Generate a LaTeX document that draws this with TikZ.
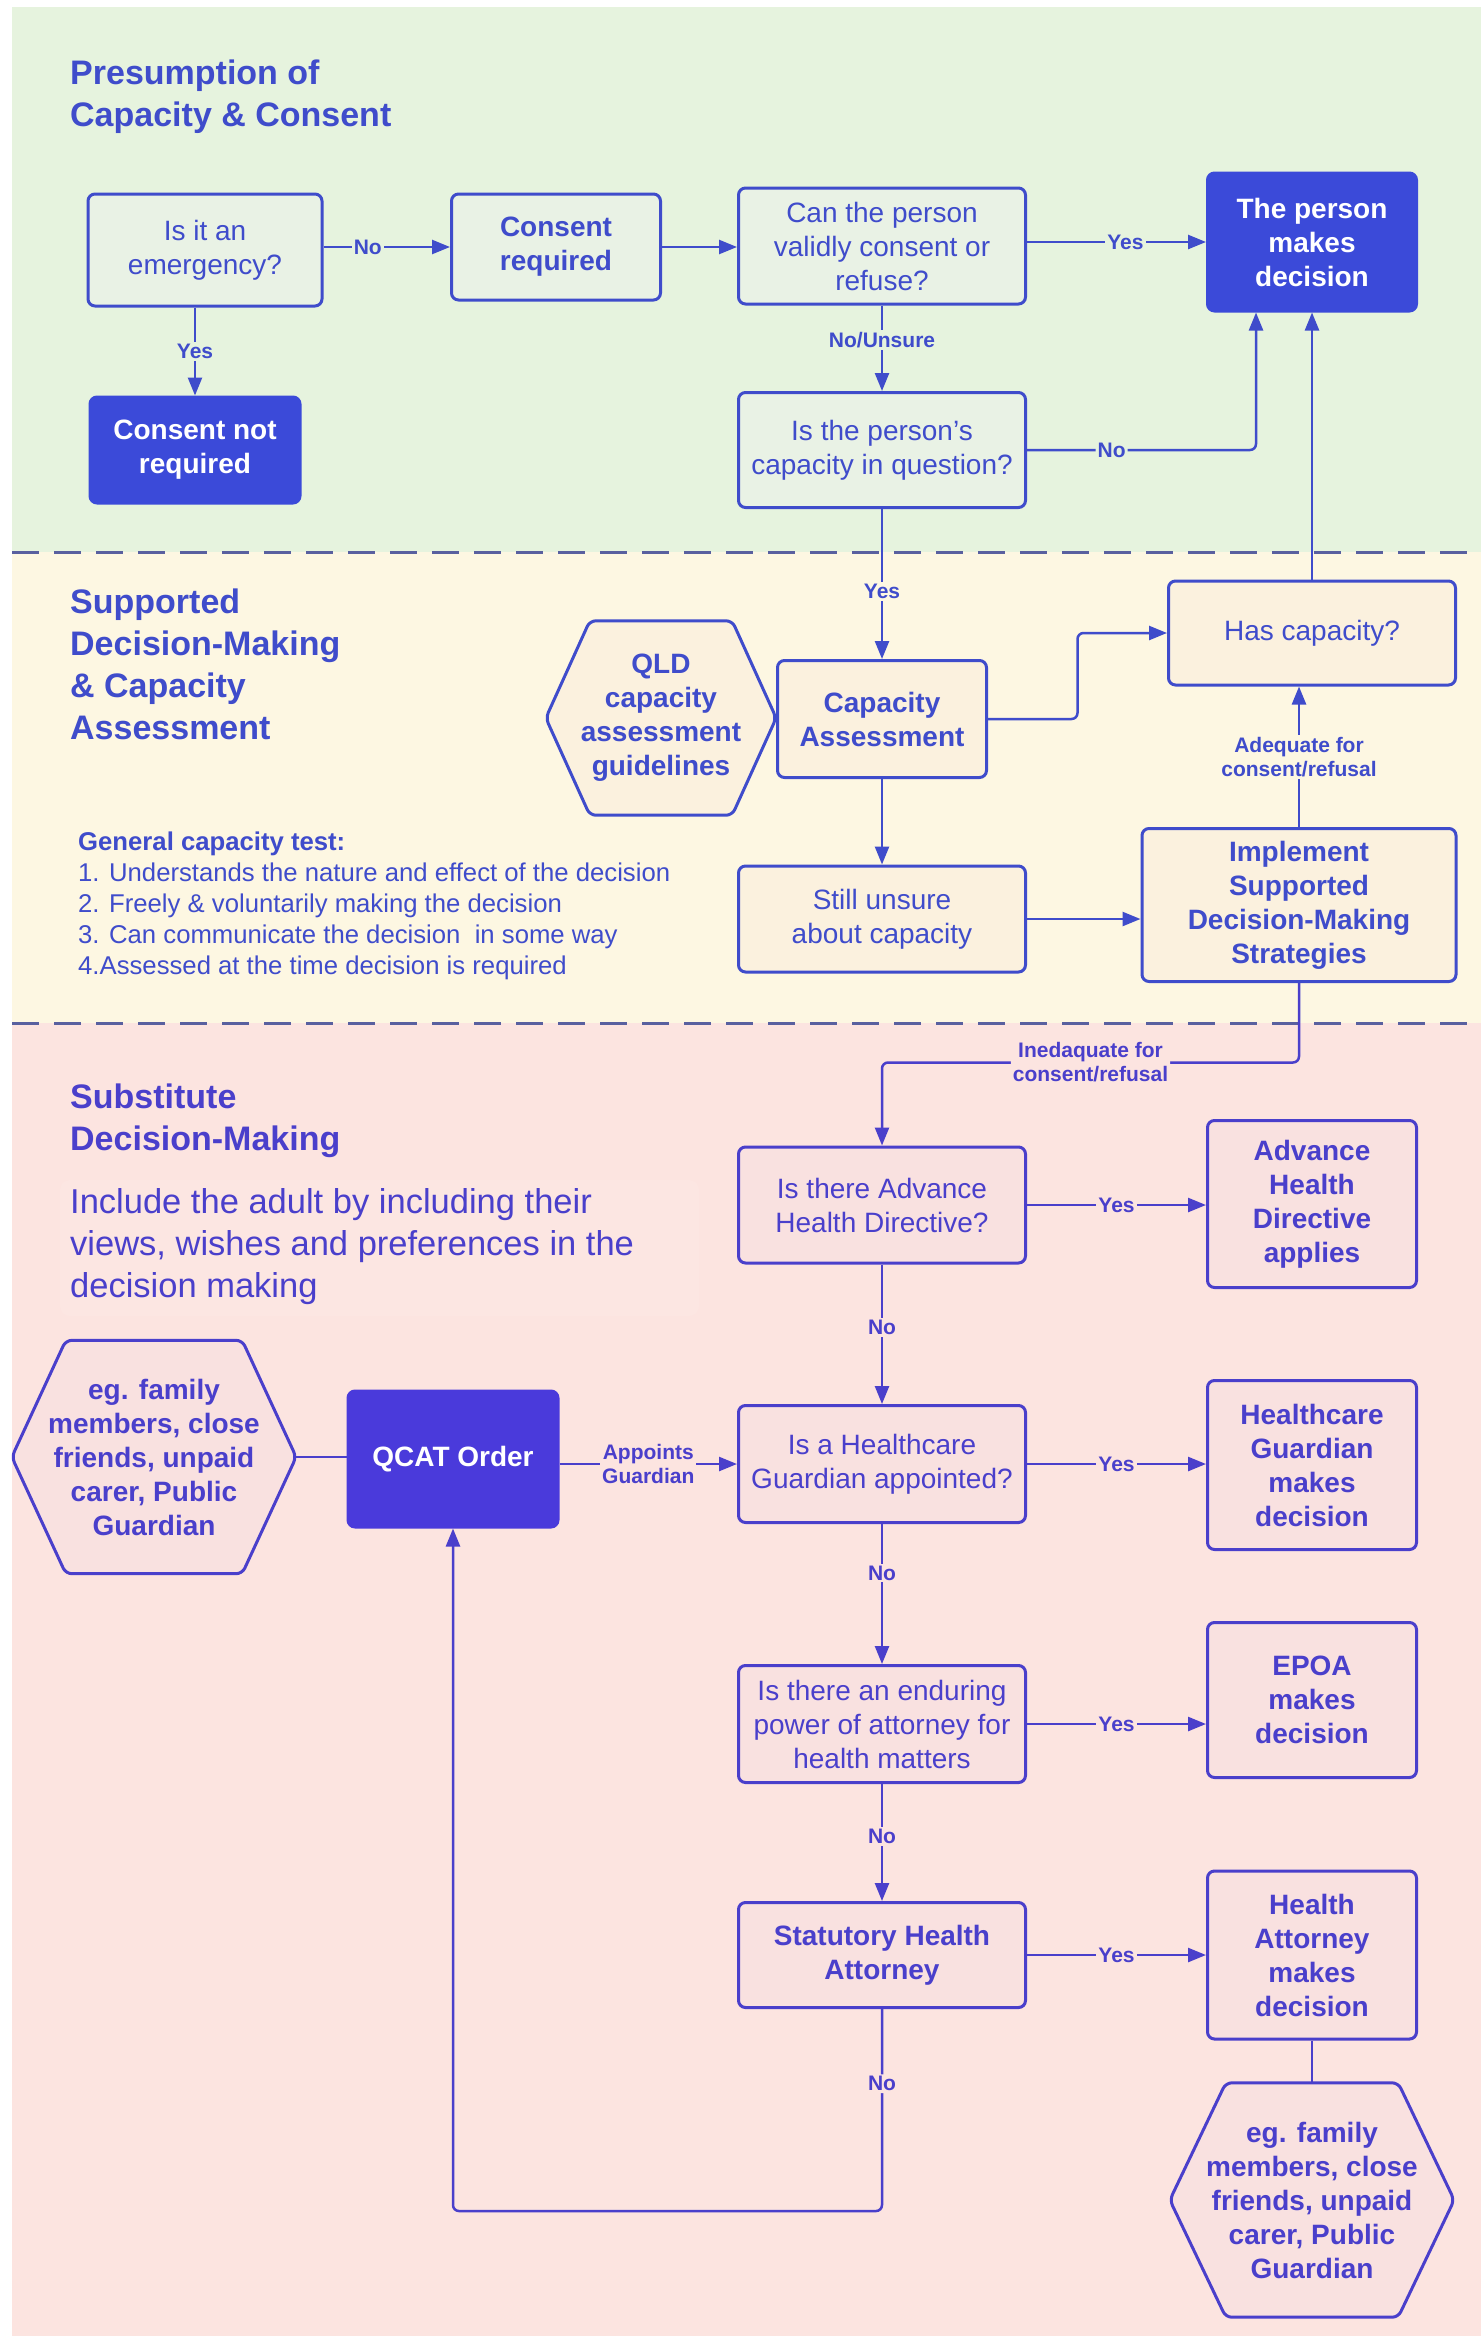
\documentclass[tikz,border=0pt]{standalone}
\usepackage{fontspec}
\setmainfont{Liberation Sans}
\usetikzlibrary{arrows.meta,calc}
\pgfdeclarelayer{back}
\pgfdeclarelayer{mid}
\pgfsetlayers{back,mid,main}
\definecolor{gbg}{HTML}{E6F3DE}
\definecolor{ybg}{HTML}{FDF7E2}
\definecolor{pbg}{HTML}{FCE4E0}
\definecolor{gfill}{HTML}{E9F2E5}
\definecolor{yfill}{HTML}{FBF1DE}
\definecolor{pfill}{HTML}{F9E1E0}
\definecolor{incfill}{HTML}{FCE6E2}
\definecolor{lb}{HTML}{3F4CCB}
\definecolor{lp}{HTML}{4A3FCB}
\definecolor{darkb}{HTML}{3B4AD9}
\definecolor{qcatc}{HTML}{4A3ADB}
\definecolor{dashc}{HTML}{59609F}
\newcommand\fz[2]{\fontsize{#1}{#2}\selectfont}
\newcommand\hexdraw[3]{%
  \begin{pgfonlayer}{mid}
  \draw[#3] ($(#1.north west)+(#2,0)$) -- ($(#1.north east)+(-#2,0)$) -- (#1.east) -- ($(#1.south east)+(-#2,0)$) -- ($(#1.south west)+(#2,0)$) -- (#1.west) -- cycle;
  \end{pgfonlayer}}
\tikzset{
  base/.style={line width=3pt, rounded corners=7pt, align=center, inner sep=0pt, font=\fz{28}{34}},
  gbox/.style={base, draw=lb, fill=gfill, text=lb},
  ybox/.style={base, draw=lb, fill=yfill, text=lb},
  pbox/.style={base, draw=lp, fill=pfill, text=lp},
  darkbox/.style={base, draw=darkb, fill=darkb, text=white, font=\fz{28}{34}\bfseries},
  hexnode/.style={align=center, inner sep=0pt, font=\fz{28}{34}\bfseries},
  hexline/.style={line width=3pt, rounded corners=6pt},
  sz/.style 2 args={minimum width=#1pt, minimum height=#2pt},
  arr/.style={line width=2.5pt, -{Triangle[length=18pt,width=14pt]}},
  ln/.style={line width=2.5pt},
  lab/.style={font=\fz{21}{24}\bfseries, inner sep=2pt, align=center},
  title/.style={anchor=north west, align=left, inner sep=0pt, font=\fz{34}{42}\bfseries}
}
\begin{document}
\begin{tikzpicture}[x=1pt,y=-1pt]
\useasboundingbox (0,0) rectangle (1481,2342);
\begin{pgfonlayer}{back}
\fill[white] (0,0) rectangle (1481,2342);
\fill[gbg] (12,7) rectangle (1481,552);
\fill[ybg] (12,552) rectangle (1481,1023);
\fill[pbg] (12,1023) rectangle (1481,2336);
\fill[incfill, rounded corners=10pt] (60,1180) rectangle (699,1316);
\end{pgfonlayer}
\draw[dashc, line width=3pt, dash pattern=on 27pt off 15pt] (12,552) -- (1481,552);
\draw[dashc, line width=3pt, dash pattern=on 27pt off 15pt] (12,1023) -- (1481,1023);

% titles
\node[title, text=lb] (t1) at (70,60) {Presumption of\\Capacity \& Consent};
\node[title, text=lb] (t2) at (70,589) {Supported\\Decision-Making\\\& Capacity\\Assessment};
\node[title, text=lp] (t3) at (70,1084) {Substitute\\Decision-Making};
\node[anchor=north west, align=left, inner sep=0pt, font=\fz{25.7}{31}, text=lb] (gct) at (78,832)
  {\textbf{General capacity test:}\\1. Understands the nature and effect of the decision\\2. Freely \& voluntarily making the decision\\3. Can communicate the decision\ \ in some way\\4.Assessed at the time decision is required};
\node[anchor=north west, align=left, inner sep=0pt, font=\fz{34.5}{42}, text=lp] (inc) at (70,1188)
  {Include the adult by including their\\views, wishes and preferences in the\\decision making};

% top section
\node[gbox, sz={234}{112}] (emerg) at (205,250) {Is it an\\emergency?};
\node[gbox, sz={209}{106}, font=\fz{28}{34}\bfseries] (consreq) at (556,247) {Consent\\required};
\node[gbox, sz={287}{116}] (canp) at (882,246) {Can the person\\validly consent or\\refuse?};
\node[darkbox, sz={209}{138}] (pm) at (1312,242) {The person\\makes\\decision};
\node[darkbox, sz={210}{106}] (notreq) at (195,450) {Consent not\\required};
\node[gbox, sz={287}{115}] (capq) at (882,450) {Is the person{\char"27}s\\capacity in question?};

% middle section
\node[ybox, sz={287}{104}] (hascap) at (1312,633) {Has capacity?};
\node[hexnode, sz={230}{194}, text=lb] (qld) at (661,718) {QLD\\capacity\\assessment\\guidelines};
\hexdraw{qld}{44}{hexline, draw=lb, fill=yfill}
\node[ybox, sz={209}{117}, font=\fz{28}{34}\bfseries] (capa) at (882,719) {Capacity\\Assessment};
\node[ybox, sz={287}{106}] (stillu) at (882,919) {Still unsure\\about capacity};
\node[ybox, sz={314}{153}, font=\fz{28}{34}\bfseries] (impl) at (1299,905) {Implement\\Supported\\Decision-Making\\Strategies};

% bottom section
\node[pbox, sz={287}{116}] (ahd) at (882,1205) {Is there Advance\\Health Directive?};
\node[pbox, sz={209}{167}, font=\fz{28}{34}\bfseries] (ahdap) at (1312,1204) {Advance\\Health\\Directive\\applies};
\node[pbox, sz={287}{117}] (hg) at (882,1464) {Is a Healthcare\\Guardian appointed?};
\node[pbox, sz={209}{169}, font=\fz{28}{34}\bfseries] (hgm) at (1312,1465) {Healthcare\\Guardian\\makes\\decision};
\node[darkbox, draw=qcatc, fill=qcatc, sz={210}{136}] (qcat) at (453,1459) {QCAT Order};
\node[hexnode, sz={284}{233}, text=lp] (lhex) at (154,1457) {eg. family\\members, close\\friends, unpaid\\carer, Public\\Guardian};
\hexdraw{lhex}{54}{hexline, draw=lp, fill=pfill}
\node[pbox, sz={287}{117}] (epq) at (882,1724) {Is there an enduring\\power of attorney for\\health matters};
\node[pbox, sz={209}{155}, font=\fz{28}{34}\bfseries] (epoa) at (1312,1700) {EPOA\\makes\\decision};
\node[pbox, sz={287}{105}, font=\fz{28}{34}\bfseries] (sha) at (882,1955) {Statutory Health\\Attorney};
\node[pbox, sz={209}{168}, font=\fz{28}{34}\bfseries] (ham) at (1312,1955) {Health\\Attorney\\makes\\decision};
\node[hexnode, sz={284}{234}, text=lp] (bhex) at (1312,2200) {eg. family\\members, close\\friends, unpaid\\carer, Public\\Guardian};
\hexdraw{bhex}{56}{hexline, draw=lp, fill=pfill}

% helper coordinates
\coordinate (pmL) at ($(pm.south)+(-56,0)$);
\coordinate (loop) at (453,2211);
\coordinate (ahdtop) at ($(ahd.north)+(0,-83)$);

% connectors top
\draw[arr, lb] (emerg.south -| notreq.north) -- node[lab, fill=gbg, text=lb]{Yes} (notreq.north);
\draw[arr, lb] (emerg.east |- consreq.west) -- node[lab, fill=gbg, text=lb, pos=0.35]{No} (consreq.west);
\draw[arr, lb] (consreq.east) -- (consreq.east -| canp.west);
\draw[arr, lb] (canp.east |- pm.west) -- node[lab, fill=gbg, text=lb, pos=0.55]{Yes} (pm.west);
\draw[arr, lb] (canp.south) -- node[lab, fill=gbg, text=lb, pos=0.4]{No/Unsure} (capq.north);
\draw[arr, lb, rounded corners=6pt] (capq.east) -- node[lab, fill=gbg, text=lb, pos=0.37]{No} (capq.east -| pmL) -- (pmL);
\draw[arr, lb] (hascap.north) -- (pm.south);

% connectors middle
\draw[arr, lb] (capq.south) -- node[lab, fill=ybg, text=lb, pos=0.55]{Yes} (capa.north);
\draw[arr, lb, rounded corners=6pt] (capa.east) -| ($(capa.east)!0.5!(hascap.west)$) |- (hascap.west);
\draw[arr, lb] (capa.south) -- (stillu.north);
\draw[arr, lb] (stillu.east) -- (stillu.east -| impl.west);
\draw[arr, lb] (impl.north) -- node[lab, fill=ybg, text=lb]{Adequate for\\consent/refusal} (impl.north |- hascap.south);

% connectors bottom
\draw[arr, lp, rounded corners=6pt] (impl.south) |- node[lab, fill=pbg, text=lp, pos=0.75]{Inedaquate for\\consent/refusal} (ahdtop) -- (ahd.north);
\draw[arr, lp] (ahd.east) -- node[lab, fill=pbg, text=lp]{Yes} (ahd.east -| ahdap.west);
\draw[arr, lp] (ahd.south) -- node[lab, fill=pbg, text=lp, pos=0.45]{No} (hg.north);
\draw[arr, lp] (hg.east) -- node[lab, fill=pbg, text=lp]{Yes} (hg.east -| hgm.west);
\draw[arr, lp] (hg.south) -- node[lab, fill=pbg, text=lp, pos=0.35]{No} (epq.north);
\draw[arr, lp] (epq.east) -- node[lab, fill=pbg, text=lp]{Yes} (epq.east -| epoa.west);
\draw[arr, lp] (epq.south) -- node[lab, fill=pbg, text=lp, pos=0.45]{No} (sha.north);
\draw[arr, lp] (sha.east) -- node[lab, fill=pbg, text=lp]{Yes} (sha.east -| ham.west);
\draw[arr, lp, rounded corners=6pt] (sha.south) -- node[lab, fill=pbg, text=lp, pos=0.37]{No} (sha.south |- loop) -- (loop) -- (qcat.south);
\draw[arr, lp] (qcat.east |- hg.west) -- node[lab, fill=pbg, text=lp]{Appoints\\Guardian} (hg.west);
\draw[ln, lp] (lhex.east) -- (lhex.east -| qcat.west);
\draw[ln, lp] (ham.south) -- (bhex.north);
\end{tikzpicture}
\end{document}
